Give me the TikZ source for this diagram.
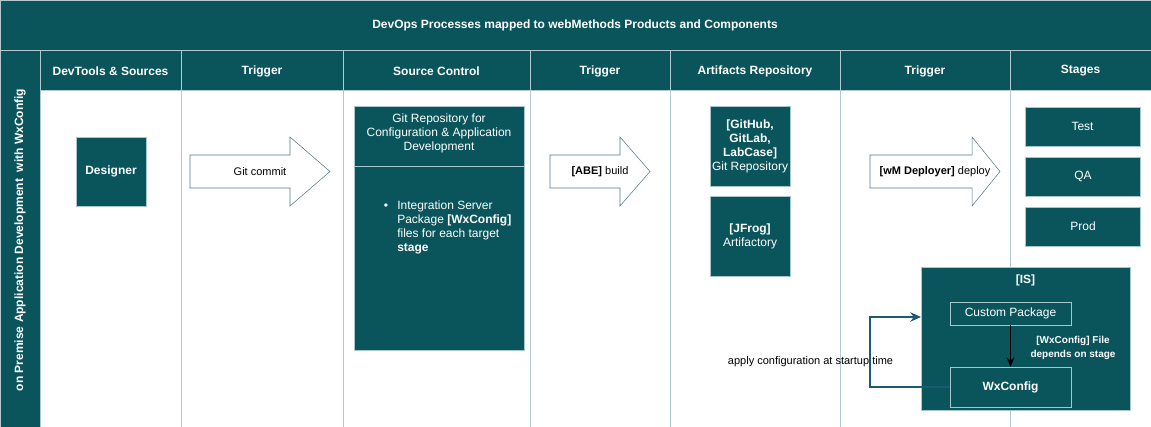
\documentclass[tikz,border=0pt]{standalone}
\usepackage{fontspec}
\setmainfont{Liberation Sans}
\usetikzlibrary{arrows.meta}

\definecolor{devteal}{HTML}{0A545C}
\definecolor{gridline}{HTML}{B4C8D0}
\definecolor{boxline}{HTML}{A8C6CE}
\definecolor{arrowline}{HTML}{587884}
\definecolor{loopline}{HTML}{1D5A74}

\tikzset{
  headcell/.style={fill=devteal, draw=gridline},
  headtext/.style={text=white, font=\fontsize{9}{11}\selectfont\bfseries},
  tealbox/.style={fill=devteal, draw=boxline, text=white, align=center, inner sep=0pt,
    font=\fontsize{9}{10.5}\selectfont},
  flowarrow/.style={fill=white, draw=arrowline},
  arrowtext/.style={font=\fontsize{8.25}{10}\selectfont},
}

\begin{document}
\begin{tikzpicture}[x=0.75pt, y=-0.75pt]
\useasboundingbox (0,0) rectangle (1151,427);
\draw[gridline] (0,0) rectangle (1151,427);

% title band and swimlane
\draw[headcell] (0,0) rectangle (1151,50);
\node[headtext] (title) at (575,25) {DevOps Processes mapped to webMethods Products and Components};
\draw[headcell] (0,50) rectangle (40,427);
\node[headtext, rotate=90] (lane) at (20,240) {on Premise Application Development\ \ with WxConfig};

% column headers
\foreach \xa/\xb/\txt [count=\i] in {40/181/DevTools \& Sources, 181/343/Trigger,
    343/530/Source Control, 530/670/Trigger, 670/840/Artifacts Repository,
    840/1010/Trigger, 1010/1151/Stages} {
  \draw[headcell] (\xa,50) rectangle (\xb,90);
  \node[headtext] (head\i) at ({(\xa+\xb)/2},71) {\txt};
  \draw[gridline] (\xb,90) -- (\xb,427);
}

% DevTools & Sources
\node[tealbox, minimum width=52.5pt, minimum height=51.75pt, font=\fontsize{9}{10.5}\selectfont\bfseries]
  (designer) at (111,171.5) {Designer};

% trigger arrows
\draw[flowarrow] (190,155) -- (290,155) -- (290,137) -- (330,171.5) -- (290,206) -- (290,188) -- (190,188) -- cycle;
\node[arrowtext] (gitcommit) at (260,171.5) {Git commit};

\draw[flowarrow] (550,155) -- (620,155) -- (620,137) -- (650,171.5) -- (620,206) -- (620,188) -- (550,188) -- cycle;
\node[arrowtext] (abebuild) at (600,171.5) {\textbf{[ABE]} build};

\draw[flowarrow] (870,155) -- (972,155) -- (972,137) -- (1000,171.5) -- (972,206) -- (972,188) -- (870,188) -- cycle;
\node[arrowtext] (deploy) at (935,171.5) {\textbf{[wM Deployer]} deploy};

% Source Control
\node[tealbox, minimum width=127.5pt, minimum height=183pt] (gitrepo) at (439,228) {};
\draw[boxline] (354,166) -- (524,166);
\node[tealbox, draw=none, fill=none] (gitrepotitle) at (439,133)
  {Git Repository for\\Configuration \& Application\\Development};
\node[text=white, font=\fontsize{9}{10.5}\selectfont] (bullet) at (386,207) {\textbullet};
\node[anchor=north west, text=white, align=left, inner sep=0pt, font=\fontsize{9}{10.5}\selectfont]
  (gitrepolist) at (397,201)
  {Integration Server\\Package \textbf{[WxConfig]}\\files for each target\\\textbf{stage}};

% Artifacts Repository
\node[tealbox, minimum width=60pt, minimum height=60pt] (github) at (750,146)
  {\textbf{[GitHub,}\\\textbf{GitLab,}\\\textbf{LabCase]}\\Git Repository};
\node[tealbox, minimum width=60pt, minimum height=60pt] (jfrog) at (750,236)
  {\textbf{[JFrog]}\\Artifactory};

% Stages
\node[tealbox, minimum width=86.25pt, minimum height=29.25pt] (test) at (1082.5,126.5) {Test};
\node[tealbox, minimum width=86.25pt, minimum height=29.25pt] (qa) at (1083,176.5) {QA};
\node[tealbox, minimum width=86.25pt, minimum height=29.25pt] (prod) at (1083,226.5) {Prod};

% Integration Server
\node[tealbox, minimum width=156.75pt, minimum height=107.25pt] (is) at (1025.5,338.5) {};
\node[headtext] (istitle) at (1025.5,280) {[IS]};
\node[tealbox, minimum width=90.75pt, minimum height=17.25pt] (cpkg) at (1010.5,313.5) {Custom Package};
\node[tealbox, minimum width=90.75pt, minimum height=30pt, font=\fontsize{9}{10.5}\selectfont\bfseries]
  (wxcfg) at (1010.5,387) {WxConfig};
\draw[-{Stealth[length=7pt, width=6pt]}, line width=1.2pt] (cpkg) -- (wxcfg);
\node[text=white, align=center, inner sep=0pt, font=\fontsize{7.5}{10.5}\selectfont\bfseries]
  (wxlabel) at (1073,348) {[WxConfig] File\\depends on stage};

% startup loop
\coordinate (isin) at (921,317);
\draw[loopline, line width=1.2pt, -{Stealth[length=8pt, width=7pt]}] (wxcfg.west) -- ++(-80,0) |- (isin);
\node[arrowtext] (applycfg) at (810.5,362) {apply configuration at startup time};
\end{tikzpicture}
\end{document}
